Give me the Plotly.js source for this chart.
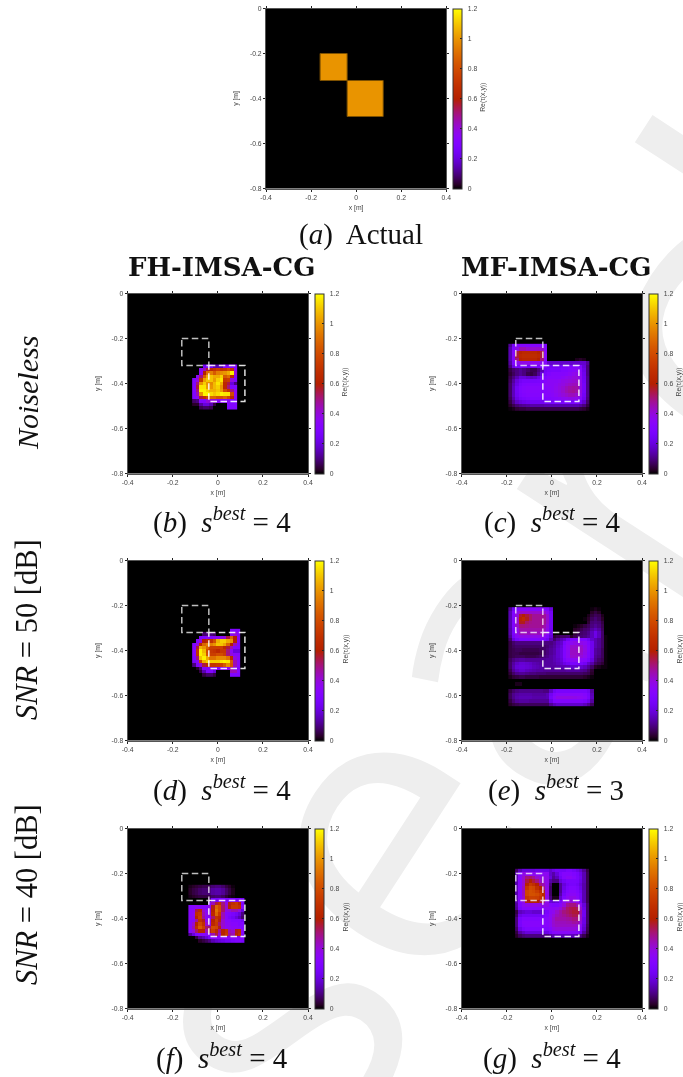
<!DOCTYPE html>
<html>
<head>
<meta charset="utf-8">
<script src="https://cdn.plot.ly/plotly-3.0.1.min.js"></script>
<style>
html,body{margin:0;padding:0;background:#fff;overflow:hidden}
#wm{position:absolute;left:0;top:0;width:683px;height:1077px;overflow:hidden;z-index:0}
#wm span{position:absolute;left:-224px;top:1371px;font:400 400px "Open Sans",sans-serif;color:#eeeeee;white-space:nowrap;transform-origin:0 0;transform:rotate(-57deg);line-height:1}
#plot{position:absolute;left:0;top:0;width:683px;height:1077px;z-index:1;filter:blur(0.4px)}
</style>
</head>
<body>
<div id="wm"><span>Research</span></div>
<div id="plot"></div>
<script>
var tickX = [-0.4,-0.2,0,0.2,0.4];
var tickXText = ['-0.4','-0.2','0','0.2','0.4'];
var tickY = [0,-0.2,-0.4,-0.6,-0.8];
var tickYText = ['0','-0.2','-0.4','-0.6','-0.8'];
var barTicks = [0,0.2,0.4,0.6,0.8,1,1.2];
var barTickText = ['\u20020','\u20020.2','\u20020.4','\u20020.6','\u20020.8','\u20021','\u20021.2'];

// true scatterer outlines (x, y)
var box1X = [-0.16,-0.04,-0.04,-0.16,-0.16];
var box1Y = [-0.2,-0.2,-0.32,-0.32,-0.2];
var box2X = [-0.04,0.12,0.12,-0.04,-0.04];
var box2Y = [-0.32,-0.32,-0.48,-0.48,-0.32];

// panel (a)
var xA = [-0.16,-0.04,0.12];
var yA = [-0.2,-0.32,-0.48];
var zA = [[1,0],[0,1]];

var zB = [
[0,0,0,.25,.28,.25,.15,.15,.15,.33,.33,.33,.33],
[0,0,.35,.45,.55,.65,.7,.75,.7,.72,.8,.7,.35],
[0,0,.35,.6,.9,.95,.85,.95,.98,1,1.05,1.18,.4],
[0,.35,.5,.85,1.05,1.1,1.05,1.05,1.12,.85,.9,.65,.3],
[.3,.4,.72,1.02,1.1,1.1,1.02,1.12,1.16,.72,.75,.4,.3],
[.3,.5,1,1.12,1,.98,1.08,1.16,1.06,.65,.55,.2,.1],
[.3,.55,1.16,1.16,1.02,1,1.08,1.12,1,.65,.5,.3,.3],
[.3,.5,1.18,1.18,1.12,1.06,1.06,1.1,1.02,.8,.7,.5,.35],
[.3,.45,1,1.18,1.18,1.14,1.1,1.14,1.18,1.16,1.16,.8,.35],
[.3,.35,.55,.68,.78,.88,.88,.82,.82,.88,.78,.65,.35],
[.08,.1,.3,.3,.4,.4,.4,.35,.35,.35,.35,.3,.3],
[.03,.03,.13,.2,.2,.15,.05,0,0,0,.3,.3,.3],
[0,0,.06,.08,.08,.06,0,0,0,0,.3,.3,.3]];

var zC = [
[.12,.27,.32,.32,.32,.32,.32,.32,.32,.32,.3,0,0,0,0,0,0,0,0,0,0,0,0],
[.15,.3,.38,.45,.45,.42,.42,.42,.42,.42,.33,0,0,0,0,0,0,0,0,0,0,0,0],
[.15,.32,.55,.62,.65,.65,.65,.65,.62,.55,.33,0,0,0,0,0,0,0,0,0,0,0,0],
[.15,.32,.55,.65,.67,.67,.67,.67,.65,.55,.33,0,0,0,0,0,0,0,0,0,0,0,0],
[.15,.32,.5,.62,.64,.64,.64,.64,.6,.5,.33,0,0,0,0,0,0,0,0,.02,.03,.02,0],
[.13,.3,.36,.38,.38,.38,.36,.36,.36,.36,.33,.18,.18,.18,.18,.18,.18,.18,.18,.18,.18,.18,.12],
[.1,.22,.27,.27,.25,.25,.25,.25,.28,.3,.3,.25,.25,.25,.25,.27,.28,.3,.3,.3,.3,.2,.1],
[.05,.08,.1,.12,.1,.08,.06,.06,.1,.15,.25,.27,.28,.28,.28,.3,.3,.32,.33,.35,.33,.22,.1],
[.04,.07,.1,.12,.1,.06,.05,.07,.12,.2,.27,.3,.32,.32,.32,.32,.33,.35,.37,.38,.35,.23,.1],
[.06,.1,.15,.2,.2,.18,.17,.18,.22,.27,.3,.33,.33,.33,.33,.35,.37,.38,.4,.4,.36,.24,.11],
[.07,.13,.2,.25,.27,.27,.27,.27,.28,.3,.33,.35,.35,.35,.36,.38,.39,.4,.41,.42,.37,.25,.11],
[.08,.15,.22,.28,.3,.31,.31,.31,.31,.33,.35,.35,.35,.36,.38,.39,.41,.43,.44,.44,.38,.26,.11],
[.08,.16,.25,.3,.32,.33,.33,.33,.33,.33,.33,.34,.35,.37,.39,.41,.44,.46,.47,.46,.38,.26,.11],
[.08,.16,.25,.3,.32,.33,.33,.33,.33,.33,.33,.34,.35,.37,.39,.42,.45,.47,.48,.46,.39,.26,.11],
[.08,.16,.24,.29,.31,.32,.32,.32,.32,.32,.33,.33,.34,.36,.38,.4,.42,.44,.44,.42,.37,.25,.11],
[.07,.14,.22,.26,.28,.29,.3,.3,.3,.3,.3,.31,.32,.33,.34,.36,.37,.38,.38,.37,.32,.23,.1],
[.05,.11,.17,.2,.22,.23,.24,.24,.24,.25,.26,.26,.27,.27,.27,.28,.28,.28,.28,.28,.25,.18,.08],
[.03,.06,.09,.11,.12,.13,.14,.14,.14,.14,.15,.15,.15,.15,.15,.15,.15,.15,.15,.15,.13,.1,.05],
[.01,.02,.04,.05,.05,.06,.06,.06,.06,.06,.06,.06,.06,.06,.06,.06,.06,.06,.06,.06,.05,.04,.02]];

var zD = [
[0,0,0,0,0,0,0,0,0,0,0,.3,.3,.3],
[0,0,0,.08,.1,.1,.08,0,0,0,0,.33,.4,.33],
[0,0,.3,.3,.35,.3,.35,.35,.35,.4,.55,.88,.6,.33],
[0,.3,.4,.6,.65,.7,.82,1.06,1.12,1.12,1.05,1,.6,.33],
[.3,.4,.65,.88,.95,.95,1,1.1,1.1,1.04,.88,.6,.45,.3],
[.33,.55,1.06,1,.88,.75,.75,.75,.75,.65,.55,.45,.3,.3],
[.33,.7,1.18,1.08,.8,.72,.7,.65,.72,.72,.5,.35,.2,.2],
[.33,.7,1.18,1.12,.82,.75,.75,.8,.8,.75,.5,.4,.33,.33],
[.3,.5,1.1,1.18,1.05,.92,.92,.98,.98,.98,.92,.65,.4,.33],
[.28,.35,.78,1.06,1.12,1.12,1.12,1.12,1.16,1.18,1.16,.85,.45,.33],
[.1,.3,.4,.55,.65,.7,.7,.72,.75,.85,.98,.82,.45,.33],
[0,.03,.1,.3,.3,.33,.3,.3,.3,.33,.35,.45,.35,.3],
[0,0,.05,.15,.3,.3,.2,0,0,0,0,.45,.45,.33],
[0,0,0,.05,.08,.08,.05,0,0,0,0,.3,.3,.3]];

var zE = [
[.12,.25,.3,.33,.33,.33,.33,.33,.33,.33,.33,.3,.2,0,0,0,0,0,0,0,0,0,0,0,.01,.02,.01,0,0],
[.15,.3,.38,.42,.42,.42,.42,.42,.42,.42,.42,.36,.24,0,0,0,0,0,0,0,0,0,0,0,.03,.05,.03,0,0],
[.15,.3,.4,.56,.6,.56,.52,.48,.48,.48,.48,.42,.25,0,0,0,0,0,0,0,0,0,0,.02,.05,.07,.06,.02,0],
[.15,.3,.42,.62,.66,.58,.52,.48,.48,.48,.48,.42,.25,0,0,0,0,0,0,0,0,0,.01,.03,.07,.09,.07,.03,0],
[.15,.3,.42,.58,.58,.52,.49,.48,.48,.48,.48,.42,.25,0,0,0,0,0,0,0,0,0,0,.04,.09,.1,.09,.05,0],
[.15,.3,.42,.5,.5,.49,.48,.48,.48,.48,.46,.4,.25,0,0,0,0,0,0,.01,.02,.03,.05,.07,.1,.12,.1,.06,0],
[.14,.28,.38,.46,.46,.46,.46,.46,.46,.46,.44,.38,.24,0,0,0,0,0,0,.03,.04,.06,.08,.09,.13,.16,.13,.07,0],
[.14,.28,.38,.44,.44,.44,.44,.44,.44,.44,.42,.36,.23,0,0,0,0,0,0,.04,.06,.08,.09,.11,.16,.22,.16,.08,0],
[.12,.26,.35,.38,.38,.38,.38,.38,.38,.38,.36,.3,.2,.04,.06,.08,.08,.09,.03,.06,.08,.09,.1,.12,.16,.22,.16,.08,.01],
[.08,.2,.26,.3,.3,.3,.3,.3,.3,.3,.28,.24,.15,.08,.12,.15,.18,.25,.31,.31,.31,.3,.3,.25,.18,.15,.12,.08,.01],
[.05,.08,.1,.1,.1,.1,.1,.1,.1,.1,.1,.1,.1,.12,.16,.18,.28,.34,.36,.38,.38,.38,.36,.31,.23,.15,.12,.08,.01],
[.05,.07,.08,.08,.08,.08,.08,.08,.08,.08,.08,.09,.11,.13,.17,.2,.3,.36,.42,.42,.42,.42,.38,.32,.23,.15,.12,.08,.01],
[.05,.06,.07,.07,.06,.06,.06,.06,.06,.07,.08,.1,.12,.14,.18,.21,.3,.36,.43,.43,.43,.43,.39,.32,.23,.13,.11,.07,.01],
[.05,.06,.06,.05,.05,.05,.05,.05,.05,.06,.08,.1,.12,.14,.18,.21,.3,.36,.43,.43,.43,.42,.38,.31,.23,.13,.11,.07,.01],
[.05,.06,.07,.07,.07,.06,.06,.06,.07,.08,.1,.11,.13,.15,.18,.21,.3,.36,.42,.42,.42,.4,.37,.31,.23,.12,.1,.07,.01],
[.07,.1,.12,.13,.13,.12,.12,.12,.12,.12,.12,.13,.13,.15,.17,.2,.28,.33,.35,.36,.36,.35,.33,.28,.2,.11,.08,.06,.01],
[.08,.13,.17,.19,.19,.18,.17,.15,.14,.13,.13,.13,.13,.14,.16,.18,.22,.25,.28,.28,.28,.28,.25,.18,.14,.08,.06,.04,.01],
[.08,.14,.19,.2,.2,.19,.18,.16,.15,.14,.13,.13,.13,.13,.14,.15,.15,.16,.18,.18,.18,.18,.16,.12,.08,.03,.02,.01,.01],
[.06,.12,.16,.18,.18,.16,.15,.14,.13,.13,.12,.12,.12,.12,.12,.12,.12,.13,.13,.13,.13,.12,.11,.08,.04,0,0,0,0],
[.04,.08,.11,.12,.12,.11,.1,.1,.09,.09,.09,.08,.08,.08,.08,.08,.08,.08,.08,.08,.08,.08,.07,.06,.03,0,0,0,0],
[.02,.04,.05,.06,.06,.05,.05,.05,.05,.04,.04,.04,.04,.04,.04,.04,.04,.04,.04,.04,.04,.04,.03,.02,.01,0,0,0,0],
[0,0,0,0,0,0,0,0,0,0,0,0,0,0,0,0,0,0,0,0,0,0,0,0,0,0,0,0,0],
[0,0,.02,.02,0,0,0,0,0,0,0,0,0,0,0,0,0,0,0,0,0,0,0,0,0,0,0,0,0],
[0,0,0,0,0,0,0,0,0,0,0,0,0,0,0,0,0,0,0,0,0,0,0,0,0,0,0,0,0],
[.05,.08,.1,.11,.11,.11,.11,.11,.11,.11,.1,.1,.17,.24,.27,.27,.27,.27,.27,.27,.27,.27,.27,.24,.13,0,0,0,0],
[.07,.11,.13,.14,.14,.14,.14,.13,.13,.13,.13,.15,.24,.31,.34,.34,.34,.34,.34,.34,.34,.34,.32,.27,.15,0,0,0,0],
[.07,.11,.14,.15,.15,.15,.15,.14,.14,.14,.14,.15,.26,.34,.38,.39,.39,.39,.39,.38,.37,.36,.34,.28,.16,0,0,0,0],
[.05,.09,.12,.13,.13,.13,.12,.12,.12,.12,.12,.12,.22,.3,.31,.31,.31,.31,.31,.31,.31,.3,.28,.23,.13,0,0,0,0],
[.03,.05,.06,.07,.07,.07,.07,.07,.07,.07,.07,.07,.12,.16,.18,.18,.18,.18,.18,.18,.18,.18,.16,.12,.07,0,0,0,0]];

var zF = [
[.02,.03,.04,.05,.06,.06,.07,.09,.1,.1,.08,.05,.03,.01,0,0,0],
[.03,.05,.06,.08,.09,.09,.1,.13,.14,.14,.12,.08,.05,.02,0,0,0],
[.03,.05,.06,.08,.09,.09,.1,.13,.14,.14,.12,.08,.05,.02,0,0,0],
[.02,.03,.04,.05,.05,.05,.06,.08,.09,.09,.07,.04,.02,.01,0,0,0],
[0,0,0,0,0,0,.1,.25,.28,.3,.3,.3,.3,.3,.3,.3,.25],
[0,0,0,0,0,0,.3,.45,.55,.68,.5,.38,.58,.68,.72,.62,.3],
[.32,.33,.35,.33,.33,.33,.38,.58,.88,.8,.52,.42,.62,.72,.72,.68,.33],
[.33,.35,.55,.65,.42,.36,.38,.62,.92,.8,.52,.38,.4,.45,.45,.4,.2],
[.33,.36,.68,.72,.45,.36,.38,.65,.88,.72,.45,.32,.3,.28,.25,.2,.1],
[.33,.35,.62,.75,.48,.34,.34,.52,.7,.65,.45,.33,.28,.25,.2,.15,.08],
[.33,.33,.48,.68,.58,.36,.36,.62,.75,.58,.42,.33,.33,.3,.3,.3,.25],
[.33,.42,.62,.78,.68,.42,.38,.65,.72,.52,.42,.35,.35,.33,.33,.3,.3],
[.33,.45,.68,.85,.75,.52,.52,.8,.78,.58,.42,.36,.36,.35,.35,.33,.3],
[.32,.4,.52,.62,.62,.45,.58,.75,.65,.48,.62,.7,.45,.42,.58,.65,.33],
[.12,.2,.3,.33,.33,.33,.35,.45,.55,.42,.62,.72,.48,.45,.62,.68,.33],
[0,0,.05,.12,.15,.2,.28,.33,.33,.33,.33,.33,.33,.33,.33,.33,.3],
[0,0,0,.03,.05,.07,.1,.15,.18,.2,.22,.25,.25,.28,.3,.3,.28]];

var zG = [
[.08,.15,.2,.2,.2,.2,.22,.22,.22,.22,.18,.22,.25,.25,.25,.28,.28,.25,.22,.18,.12,.05],
[.14,.3,.38,.38,.36,.36,.36,.36,.36,.36,.18,.14,.2,.28,.32,.32,.32,.3,.27,.22,.15,.06],
[.15,.33,.42,.5,.52,.48,.42,.4,.38,.38,.2,.12,.16,.25,.32,.35,.35,.32,.28,.23,.15,.06],
[.15,.33,.42,.55,.6,.55,.5,.42,.4,.38,.14,.1,.1,.2,.25,.28,.28,.28,.27,.22,.15,.06],
[.15,.33,.42,.62,.72,.68,.6,.5,.45,.38,.1,0,0,.12,.2,.25,.27,.27,.25,.2,.14,.06],
[.15,.33,.44,.72,.8,.78,.68,.6,.5,.38,.08,0,0,.12,.22,.28,.3,.3,.28,.22,.14,.06],
[.15,.33,.44,.78,.82,.8,.75,.68,.58,.38,.08,0,0,.12,.24,.3,.33,.33,.3,.24,.15,.06],
[.15,.33,.44,.78,.82,.82,.8,.75,.65,.38,.08,0,0,.14,.26,.33,.35,.35,.32,.26,.15,.06],
[.15,.33,.42,.72,.76,.76,.75,.7,.62,.38,.1,.02,.02,.18,.3,.36,.38,.38,.34,.26,.15,.06],
[.15,.33,.4,.58,.6,.6,.6,.55,.5,.38,.2,.18,.2,.28,.36,.4,.4,.39,.36,.26,.15,.06],
[.13,.3,.36,.38,.38,.38,.38,.38,.38,.38,.32,.3,.3,.34,.4,.48,.5,.5,.45,.36,.2,.08],
[.12,.28,.33,.33,.33,.33,.33,.33,.33,.35,.35,.35,.37,.4,.46,.52,.54,.55,.53,.42,.22,.08],
[.05,.16,.18,.2,.2,.18,.18,.18,.2,.28,.35,.37,.42,.46,.5,.52,.54,.56,.56,.46,.24,.08],
[.07,.22,.25,.25,.25,.25,.25,.25,.27,.3,.36,.4,.44,.46,.48,.5,.52,.54,.54,.44,.24,.08],
[.1,.27,.31,.31,.31,.31,.31,.31,.31,.33,.36,.42,.46,.46,.46,.47,.48,.5,.5,.42,.22,.08],
[.1,.28,.33,.33,.33,.33,.33,.33,.33,.33,.36,.42,.44,.44,.44,.45,.45,.47,.46,.4,.22,.08],
[.1,.27,.32,.33,.33,.33,.33,.33,.33,.33,.36,.41,.43,.43,.43,.43,.43,.43,.42,.36,.2,.07],
[.08,.22,.28,.3,.3,.3,.3,.3,.3,.3,.33,.38,.4,.4,.4,.4,.4,.4,.38,.32,.18,.06],
[.05,.13,.17,.2,.2,.2,.2,.2,.2,.22,.27,.33,.34,.34,.34,.34,.34,.34,.32,.25,.13,.05],
[.03,.07,.09,.1,.1,.1,.1,.1,.1,.1,.12,.15,.16,.16,.16,.16,.16,.16,.14,.1,.06,.02]];

var W = 683, H = 1077, PW = 180.3, PH = 180;
var FONT = '"Liberation Sans",Arial,sans-serif';
var SERIF = '"Liberation Serif",serif';

// gnuplot default pm3d palette (rgbformulae 7,5,15)
var colors = [];
for (var k = 0; k <= 40; k++) {
  var t = k/40;
  var r = Math.round(255*Math.sqrt(t)), g = Math.round(255*t*t*t),
      b = Math.round(255*Math.max(0, Math.sin(2*Math.PI*t)));
  colors.push([t, 'rgb('+r+','+g+','+b+')']);
}

var panels = [
 {z:zA, px:266,   py:8.5,   x:xA, y:yA, outline:true},
 {z:zB, px:127.7, py:293.5, ex:-.114, dx:.01524, ey:-.3156, dy:.01524},
 {z:zC, px:461.7, py:293.5, ex:-.1929,dx:.0156,  ey:-.2236, dy:.0156},
 {z:zD, px:127.7, py:560.5, ex:-.114, dx:.01524, ey:-.3036, dy:.01524},
 {z:zE, px:461.7, py:560.5, ex:-.1929,dx:.0152,  ey:-.2075, dy:.0152},
 {z:zF, px:127.7, py:828.5, ex:-.1307,dx:.0146,  ey:-.2502, dy:.0152},
 {z:zG, px:461.7, py:828.5, ex:-.1631,dx:.0149,  ey:-.1791, dy:.0154}
];

var data = [], layout = {
  width:W, height:H, margin:{l:0,r:0,t:0,b:0},
  paper_bgcolor:'rgba(0,0,0,0)', plot_bgcolor:'#000', showlegend:false,
  font:{family:FONT,size:6.8,color:'#444'}, annotations:[]
};

function note(text,x,y,size,opt){
  var a = {text:text,xref:'paper',yref:'paper',x:x/W,y:1-y/H,showarrow:false,xanchor:'center',yanchor:'middle',
    font:{family:SERIF,size:size,color:'#111'}};
  for (var key in (opt||{})) a[key]=opt[key];
  layout.annotations.push(a);
}

panels.forEach(function(p,i){
  var n = i+1, xa='x'+n, ya='y'+n;
  var tr = {type:'heatmap',z:p.z,xaxis:xa,yaxis:ya,zmin:0,zmax:1.2,colorscale:colors,zsmooth:false,hoverinfo:'skip',
    colorbar:{x:(p.px+PW+6.7)/W,xanchor:'left',xpad:0,y:1-p.py/H,yanchor:'top',ypad:0,lenmode:'pixels',len:PH,
      thicknessmode:'pixels',thickness:9.2,outlinecolor:'#333',outlinewidth:1,
      ticks:'inside',ticklen:2.5,tickcolor:'#222',tickwidth:1,tickvals:barTicks,ticktext:barTickText,
      tickfont:{family:FONT,size:6.8,color:'#444'}}};
  if (p.x){ tr.x=p.x; tr.y=p.y; }
  else { tr.x0=p.ex+p.dx/2; tr.dx=p.dx; tr.y0=p.ey-p.dy/2; tr.dy=-p.dy; }
  data.push(tr);
  [[box1X,box1Y,'rgba(255,255,255,.75)'],[box2X,box2Y,'rgba(255,255,255,.88)']].forEach(function(b){
    data.push({type:'scatter',mode:'lines',x:b[0],y:b[1],xaxis:xa,yaxis:ya,hoverinfo:'skip',
      line:p.outline ? {color:'rgb(125,80,0)',width:1} : {color:b[2],width:1.5,dash:'6.5px,3.5px'}});
  });
  layout['xaxis'+n] = {domain:[p.px/W,(p.px+PW)/W],anchor:ya,range:[-.4,.4],tickmode:'array',tickvals:tickX,ticktext:tickXText,
    ticks:'outside',ticklen:2,tickwidth:1,tickcolor:'#222',mirror:'ticks',showline:true,linecolor:'#555',linewidth:1,
    showgrid:false,zeroline:false,fixedrange:true,tickfont:{family:FONT,size:6.8,color:'#444'},
    title:{text:'x [m]',font:{family:FONT,size:6.8,color:'#444'},standoff:5}};
  layout['yaxis'+n] = {domain:[1-(p.py+PH)/H,1-p.py/H],anchor:xa,range:[-.8,0],tickmode:'array',tickvals:tickY,ticktext:tickYText,
    ticks:'outside',ticklen:2,tickwidth:1,tickcolor:'#222',mirror:'ticks',showline:true,linecolor:'#555',linewidth:1,
    showgrid:false,zeroline:false,fixedrange:true,tickfont:{family:FONT,size:6.8,color:'#444'},
    title:{text:'y [m]',font:{family:FONT,size:6.8,color:'#444'},standoff:10}};
  note('Re(τ(x,y))',p.px+PW+37,p.py+89,6.8,{textangle:-90,font:{family:FONT,size:6.8,color:'#444'}});
});

var capSup = '<i>s</i><sup><i>best</i></sup> = ';
var capSize = 29;
note('(<i>a</i>)  Actual',360.5,235,capSize);
note('(<i>b</i>)  '+capSup+'4',222,520,capSize);
note('(<i>c</i>)  '+capSup+'4',552,520,capSize);
note('(<i>d</i>)  '+capSup+'4',222,788,capSize);
note('(<i>e</i>)  '+capSup+'3',556,788,capSize);
note('(<i>f</i>)  '+capSup+'4',222,1056,capSize);
note('(<i>g</i>)  '+capSup+'4',552,1056,capSize);
var boldFont = {family:'"DejaVu Serif",serif',size:26,color:'#111'};
note('<b>FH-IMSA-CG</b>',221.5,267,26,{font:boldFont});
note('<b>MF-IMSA-CG</b>',555.5,267,26,{font:boldFont});
note('<i>Noiseless</i>',27,393,30,{textangle:-90});
note('<i>SNR</i> = 50 [dB]',27,630,30.5,{textangle:-90});
note('<i>SNR</i> = 40 [dB]',27,895,30.5,{textangle:-90});

Plotly.newPlot('plot',data,layout,{displayModeBar:false,staticPlot:true});
</script>
</body>
</html>
